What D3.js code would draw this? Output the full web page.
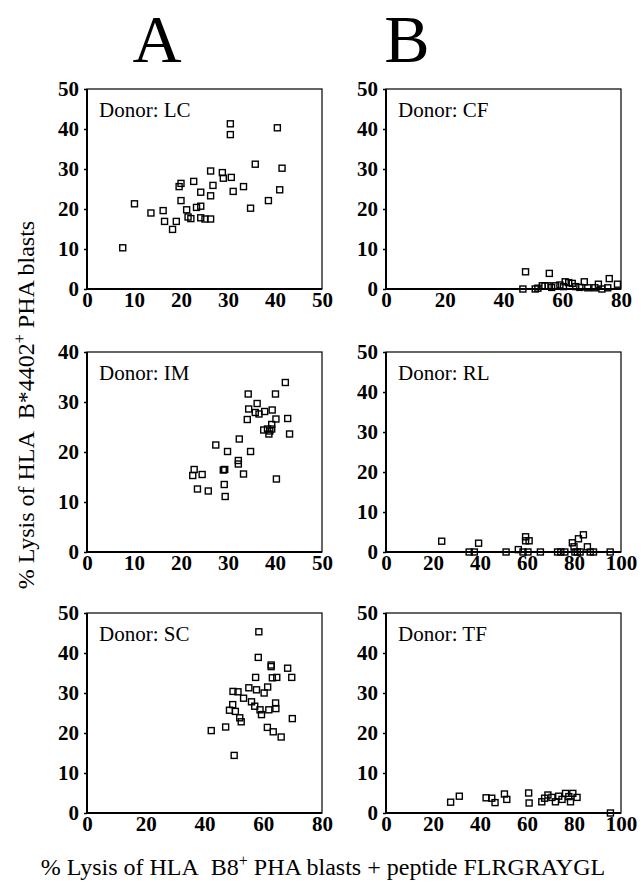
<!DOCTYPE html>
<html>
<head>
<meta charset="utf-8">
<script src="https://cdn.jsdelivr.net/npm/d3@7"></script>
<style>
  body { margin: 0; background: #fff; }
  svg { display: block; }
  text { font-family: "Liberation Serif", "Times New Roman", serif; fill: #000; }
</style>
</head>
<body>
<script>
var w = 643;
var h = 892;

// data: [x, y] pairs per donor
var lcData = [[7.6,10.3],[10.1,21.3],[13.6,19.0],[16.2,19.6],[16.5,16.9],[18.2,14.9],[19.0,16.9],
  [19.6,25.6],[20.0,26.4],[20.0,22.1],[21.2,19.8],[21.5,18.0],[22.1,17.6],[22.7,26.9],[23.3,20.4],
  [24.2,20.7],[24.2,24.2],[24.2,17.8],[25.1,17.5],[26.3,17.5],[26.3,29.5],[26.3,23.3],[26.8,25.9],
  [28.8,29.1],[29.0,27.7],[30.5,41.3],[30.5,38.6],[30.7,27.9],[31.1,24.4],[33.3,25.6],[34.8,20.2],
  [35.8,31.2],[38.6,22.1],[40.5,40.3],[41.0,24.8],[41.5,30.2]];

var cfData = [[47.5,4.3],[55.6,3.9],[46.6,0],[50.8,0],[51.7,0.2],[53.2,0.8],[54.1,0.8],[55.2,0.8],
  [56.4,0.4],[57.7,0.8],[59.2,1.0],[60.4,0.6],[61.0,1.8],[62.2,1.6],[63.4,1.4],[64.6,0.6],[66.0,0.4],
  [67.5,1.8],[68.7,0.3],[71.1,0.3],[72.3,1.2],[73.5,0],[75.5,0.3],[76.0,2.6],[78.8,1.2]];

var imData = [[22.8,16.5],[22.5,15.3],[24.5,15.5],[23.5,12.6],[25.8,12.2],[27.4,21.4],[29.0,16.4],
  [29.3,16.5],[29.2,13.5],[29.4,11.1],[29.9,20.1],[32.2,18.3],[32.2,17.6],[32.4,22.6],[33.3,15.6],
  [34.8,20.1],[34.1,26.5],[34.3,31.6],[34.4,28.6],[35.8,27.9],[36.2,29.7],[36.6,27.6],[37.8,28.1],
  [37.6,24.4],[38.4,24.6],[38.7,23.6],[38.9,24.2],[39.3,25.5],[39.3,24.6],[39.4,28.4],[40.1,31.6],
  [40.2,26.6],[40.3,14.6],[42.2,33.9],[42.7,26.7],[43.1,23.6]];

var rlData = [[23.7,2.7],[35.4,0],[37.6,0],[39.4,2.2],[51.1,0],[56.3,0.6],[58.3,0],[59.4,3.8],
  [59.4,2.8],[60.9,2.8],[60.4,0],[65.7,0],[73.0,0],[74.4,0],[76.1,0],[79.3,2.3],[80.0,1.3],[80.4,0],
  [81.4,0],[81.9,3.3],[82.6,0],[84.0,4.3],[85.7,1.3],[86.9,0],[88.3,0],[95.4,0]];

var scData = [[58.5,45.3],[58.3,38.9],[62.7,37.0],[62.7,36.6],[68.3,36.2],[57.4,33.9],[63.1,33.8],
  [64.6,33.9],[69.7,33.9],[49.7,30.4],[51.4,30.3],[55.1,31.3],[57.7,30.8],[61.5,31.5],[60.3,30.0],
  [53.3,28.7],[56.0,27.8],[57.1,26.7],[49.6,27.1],[48.5,25.7],[50.5,25.4],[58.9,25.8],[59.4,24.6],
  [61.9,25.8],[64.2,27.5],[64.3,26.1],[52.0,23.8],[52.5,22.8],[47.2,21.5],[42.3,20.6],[61.4,21.4],
  [63.4,20.3],[66.1,19.0],[69.9,23.6],[50.1,14.4]];

var tfData = [[27.5,2.7],[31.2,4.2],[42.6,3.8],[45.0,3.7],[46.4,2.6],[50.4,4.75],[51.4,3.4],[60.7,5.0],
  [60.9,2.5],[66.3,2.8],[67.5,3.7],[68.9,4.5],[70.6,3.9],[72.1,2.8],[73.5,4.2],[74.9,3.4],[76.4,4.9],
  [77.8,4.1],[78.5,2.8],[79.5,4.9],[81.3,3.9],[95.5,0]];

var donors = ['LC', 'CF', 'IM', 'RL', 'SC', 'TF'];
var series = [lcData, cfData, imData, rlData, scData, tfData];
var xMaxes = [50, 80, 50, 100, 80, 100];
var yMaxes = [50, 50, 40, 50, 50, 50];
var xSteps = [10, 20, 10, 20, 20, 20];
var columnTitles = ['A', 'B'];

var colX = [87, 386];
var rowY = [89, 352, 613];
var pw = 235;
var ph = 200;
var serif = '"Liberation Serif", "Times New Roman", serif';

var svg = d3.select('body').append('svg')
  .attr('width', w)
  .attr('height', h);

columnTitles.forEach((t, i) => {
  svg.append('text')
    .attr('x', [157, 407][i])
    .attr('y', 62)
    .attr('text-anchor', 'middle')
    .style('font-size', '68px')
    .text(t);
});

donors.forEach((donor, i) => {
  var col = i % 2;
  var row = Math.floor(i / 2);
  var g = svg.append('g')
    .attr('transform', 'translate(' + colX[col] + ',' + rowY[row] + ')');

  var x = d3.scaleLinear().domain([0, xMaxes[i]]).range([0, pw]);
  var y = d3.scaleLinear().domain([0, yMaxes[i]]).range([ph, 0]);

  // frame: thin top/right, heavier left/bottom
  g.append('rect')
    .attr('width', pw)
    .attr('height', ph)
    .attr('fill', 'none')
    .attr('stroke', '#000')
    .attr('stroke-width', 1.2);

  var yAxis = g.append('g')
    .call(d3.axisLeft(y).tickValues(d3.range(0, yMaxes[i] + 1, 10)).tickSize(3).tickPadding(5));
  var xAxis = g.append('g')
    .attr('transform', 'translate(0,' + ph + ')')
    .call(d3.axisBottom(x).tickValues(d3.range(0, xMaxes[i] + 1, xSteps[i])).tickSize(0).tickPadding(3));

  [yAxis, xAxis].forEach(a => {
    a.select('.domain').remove();
    a.selectAll('.tick line').attr('stroke-width', 1.5);
    a.selectAll('.tick text')
      .style('font-family', serif)
      .style('font-size', '21px')
      .style('font-weight', 'bold');
  });
  g.append('line').attr('x1', 0).attr('x2', 0).attr('y1', 0).attr('y2', ph)
    .attr('stroke', '#000').attr('stroke-width', 2);
  g.append('line').attr('x1', 0).attr('x2', pw).attr('y1', ph).attr('y2', ph)
    .attr('stroke', '#000').attr('stroke-width', 2);

  g.append('text')
    .attr('x', 12)
    .attr('y', 28)
    .style('font-size', '21px')
    .text('Donor: ' + donor);

  g.selectAll('rect.pt')
    .data(series[i])
    .enter().append('rect')
    .attr('class', 'pt')
    .attr('x', d => x(d[0]) - 3)
    .attr('y', d => y(d[1]) - 3)
    .attr('width', 6)
    .attr('height', 6)
    .attr('fill', 'none')
    .attr('stroke', '#000')
    .attr('stroke-width', 1.4);
});

var yTitle = svg.append('text')
  .attr('transform', 'translate(34,405) rotate(-90)')
  .attr('text-anchor', 'middle')
  .style('font-size', '24px');
yTitle.append('tspan').text('% Lysis of HLA\u00a0\u00a0B*4402');
yTitle.append('tspan').attr('dy', -9).style('font-size', '16px').text('+');
yTitle.append('tspan').attr('dy', 9).text(' PHA blasts');

var xTitle = svg.append('text')
  .attr('x', 323)
  .attr('y', 875)
  .attr('text-anchor', 'middle')
  .style('font-size', '24px');
xTitle.append('tspan').text('% Lysis of HLA\u00a0\u00a0B8');
xTitle.append('tspan').attr('dy', -9).style('font-size', '16px').text('+');
xTitle.append('tspan').attr('dy', 9).text(' PHA blasts + peptide FLRGRAYGL');
</script>
</body>
</html>
